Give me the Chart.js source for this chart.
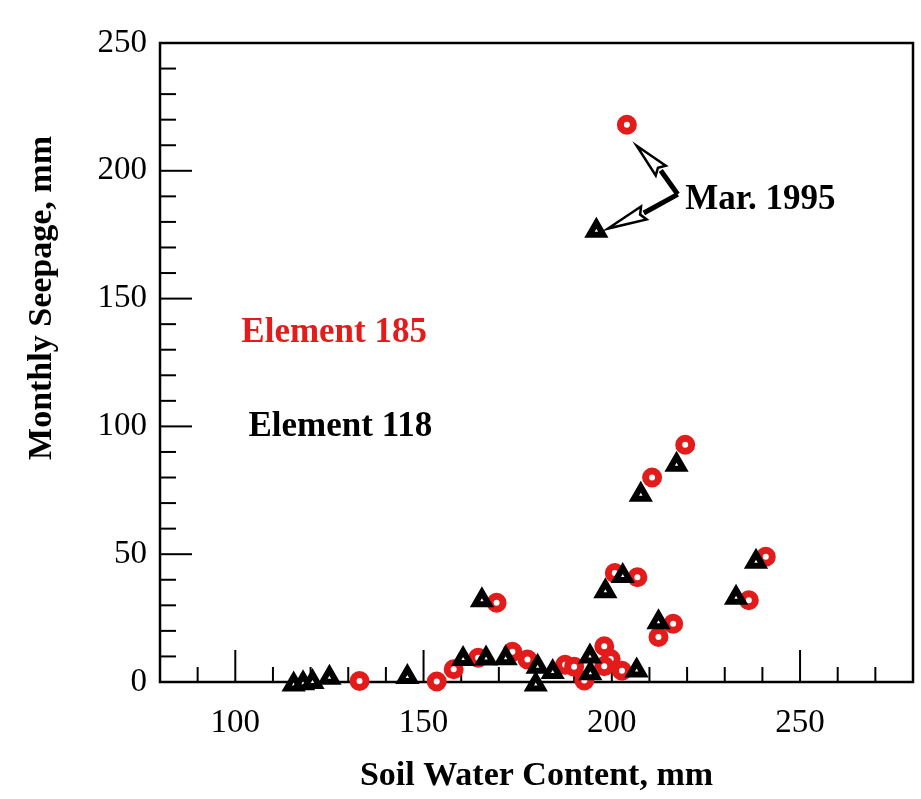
<!DOCTYPE html>
<html>
<head>
<meta charset="utf-8">
<script src="https://cdn.jsdelivr.net/npm/chart.js@4.4.0/dist/chart.umd.min.js"></script>
<style>
  html, body { margin: 0; padding: 0; background: #fff; }
  #wrap { width: 921px; height: 799px; }
</style>
</head>
<body>
<div id="wrap"><canvas id="chart" width="921" height="799"></canvas></div>
<script>
// Monthly seepage vs. soil water content, two elements. Values read off the
// scanned figure (which is tilted ~1 degree, so they are de-skewed estimates).
const element185X = [133, 153.5, 158, 164.5, 169.4, 173.6, 177.6, 187.6, 190, 192.7, 198, 199.7, 198, 202.7, 200.8, 206.8, 212.4, 216.3, 210.7, 219.5, 236.4, 240.9, 204];
const element185Y = [0.4, 0.2, 5, 9.5, 31, 11.8, 8.8, 6.7, 6, 0.6, 14, 9, 6.2, 4.4, 42.6, 41, 17.6, 22.8, 80, 92.8, 32, 49, 218];

const element118X = [115.5, 118, 120.5, 125, 145.7, 160.5, 166.6, 171.8, 165.5, 180.3, 179.8, 184.3, 194.2, 194.3, 206.6, 198.3, 202.9, 212.4, 207.7, 217.2, 233, 238.3, 195.9];
const element118Y = [-1, -0.5, 0, 1.7, 2, 9, 9.2, 9.3, 32, 6, -1, 3.9, 10, 3.4, 4.5, 35.5, 41.5, 23.4, 73.3, 85, 33, 47, 176.5];

const xTickLabels = [100, 150, 200, 250];
const yTickLabels = [0, 50, 100, 150, 200, 250];

const RED = "#e31b1b";
const SERIF = "'Liberation Serif', 'Times New Roman', serif";
const yTitle = "Monthly Seepage, mm";

// callouts, in data units
const notes = [
  { text: "Element 185", x: 101.6, y: 136.6, color: RED },
  { text: "Element 118", x: 103.5, y: 99.6, color: "#000" },
  { text: "Mar. 1995", x: 219.5, y: 188.5, color: "#000" },
];
const arrowCorner = { x: 217.5, y: 190.8 };
const arrows = [
  { shaft: { x: 213, y: 200.1 }, tip: { x: 206.6, y: 209.8 } },
  { shaft: { x: 208.5, y: 183.5 }, tip: { x: 199, y: 177.4 } },
];

const pts = (xs, ys) => xs.map((x, i) => ({ x, y: ys[i] }));

function line(ctx, x1, y1, x2, y2) {
  ctx.beginPath();
  ctx.moveTo(x1, y1);
  ctx.lineTo(x2, y2);
  ctx.stroke();
}

// hollow arrow head from the shaft end (s) to the tip (t)
function head(ctx, s, t) {
  const dx = t.x - s.x, dy = t.y - s.y, len = Math.hypot(dx, dy);
  const nx = (-dy / len) * 7, ny = (dx / len) * 7;
  ctx.beginPath();
  ctx.moveTo(t.x, t.y);
  ctx.lineTo(s.x + nx, s.y + ny);
  ctx.lineTo(s.x + (dx / len) * 4, s.y + (dy / len) * 4);
  ctx.lineTo(s.x - nx, s.y - ny);
  ctx.closePath();
  ctx.fillStyle = "#fff";
  ctx.fill();
  ctx.lineWidth = 2.5;
  ctx.stroke();
}

// box and inward tick marks, like the original plot
const frame = {
  id: "frame",
  beforeDatasetsDraw(chart) {
    const { ctx, chartArea: a, scales: { x, y } } = chart;
    ctx.save();
    ctx.strokeStyle = "#000";
    ctx.lineWidth = 2;
    for (const t of x.ticks) {
      if (t.value <= x.min || t.value >= x.max) continue;
      const px = x.getPixelForValue(t.value);
      line(ctx, px, a.bottom, px, a.bottom - (xTickLabels.includes(t.value) ? 32 : 15));
    }
    for (const t of y.ticks) {
      if (t.value <= y.min || t.value >= y.max) continue;
      const py = y.getPixelForValue(t.value);
      line(ctx, a.left, py, a.left + (yTickLabels.includes(t.value) ? 32 : 16), py);
    }
    ctx.lineWidth = 2.5;
    ctx.strokeRect(a.left, a.top, a.right - a.left, a.bottom - a.top);

    // y title sits above the axis middle in the original
    ctx.translate(42, 298);
    ctx.rotate(-Math.PI / 2);
    ctx.font = `bold 34px ${SERIF}`;
    ctx.textAlign = "center";
    ctx.textBaseline = "middle";
    ctx.fillStyle = "#000";
    ctx.fillText(yTitle, 0, 0);
    ctx.restore();
  },
  afterDatasetsDraw(chart) {
    const { ctx, scales: { x, y } } = chart;
    const px = (p) => ({ x: x.getPixelForValue(p.x), y: y.getPixelForValue(p.y) });
    ctx.save();
    ctx.font = `bold 35px ${SERIF}`;
    ctx.textBaseline = "middle";
    ctx.textAlign = "left";
    for (const n of notes) {
      const p = px(n);
      ctx.fillStyle = n.color;
      ctx.fillText(n.text, p.x, p.y);
    }
    ctx.strokeStyle = "#000";
    ctx.lineCap = "butt";
    ctx.lineJoin = "miter";
    const c = px(arrowCorner);
    for (const a of arrows) {
      const s = px(a.shaft);
      ctx.lineWidth = 5;
      line(ctx, c.x, c.y, s.x, s.y);
      head(ctx, s, px(a.tip));
    }
    ctx.restore();
  },
};

new Chart(document.getElementById("chart"), {
  type: "scatter",
  data: {
    datasets: [
      {
        label: "Element 118",
        data: pts(element118X, element118Y),
        pointStyle: "triangle",
        pointRadius: 8,
        borderWidth: 6,
        borderColor: "#000",
        backgroundColor: "#fff",
        clip: false,
        order: 0,
      },
      {
        label: "Element 185",
        data: pts(element185X, element185Y),
        pointStyle: "circle",
        pointRadius: 6.5,
        borderWidth: 7,
        borderColor: RED,
        backgroundColor: "#fff",
        clip: false,
        order: 1,
      },
    ],
  },
  options: {
    responsive: false,
    animation: false,
    layout: { autoPadding: false, padding: { top: 43, right: 8, left: 0, bottom: 0 } },
    plugins: { legend: { display: false }, tooltip: { enabled: false } },
    scales: {
      x: {
        type: "linear",
        min: 80,
        max: 280,
        afterFit: (s) => { s.height = 117; s.paddingLeft = 0; s.paddingRight = 0; },
        grid: { display: false, drawTicks: true, tickLength: 18 },
        border: { display: false },
        ticks: {
          stepSize: 10,
          autoSkip: false,
          maxRotation: 0,
          padding: 4,
          color: "#000",
          font: { family: SERIF, size: 33 },
          callback: (v) => (xTickLabels.includes(v) ? String(v) : ""),
        },
        title: {
          display: true,
          text: "Soil Water Content, mm",
          color: "#000",
          font: { family: SERIF, size: 34, weight: "bold" },
          padding: { top: 0, bottom: 2 },
        },
      },
      y: {
        min: 0,
        max: 250,
        afterFit: (s) => { s.width = 160; },
        grid: { display: false, drawTicks: false },
        border: { display: false },
        ticks: {
          stepSize: 10,
          autoSkip: false,
          padding: 13,
          color: "#000",
          font: { family: SERIF, size: 33 },
          callback: (v) => (yTickLabels.includes(v) ? String(v) : ""),
        },
      },
    },
  },
  plugins: [frame],
});
</script>
</body>
</html>
